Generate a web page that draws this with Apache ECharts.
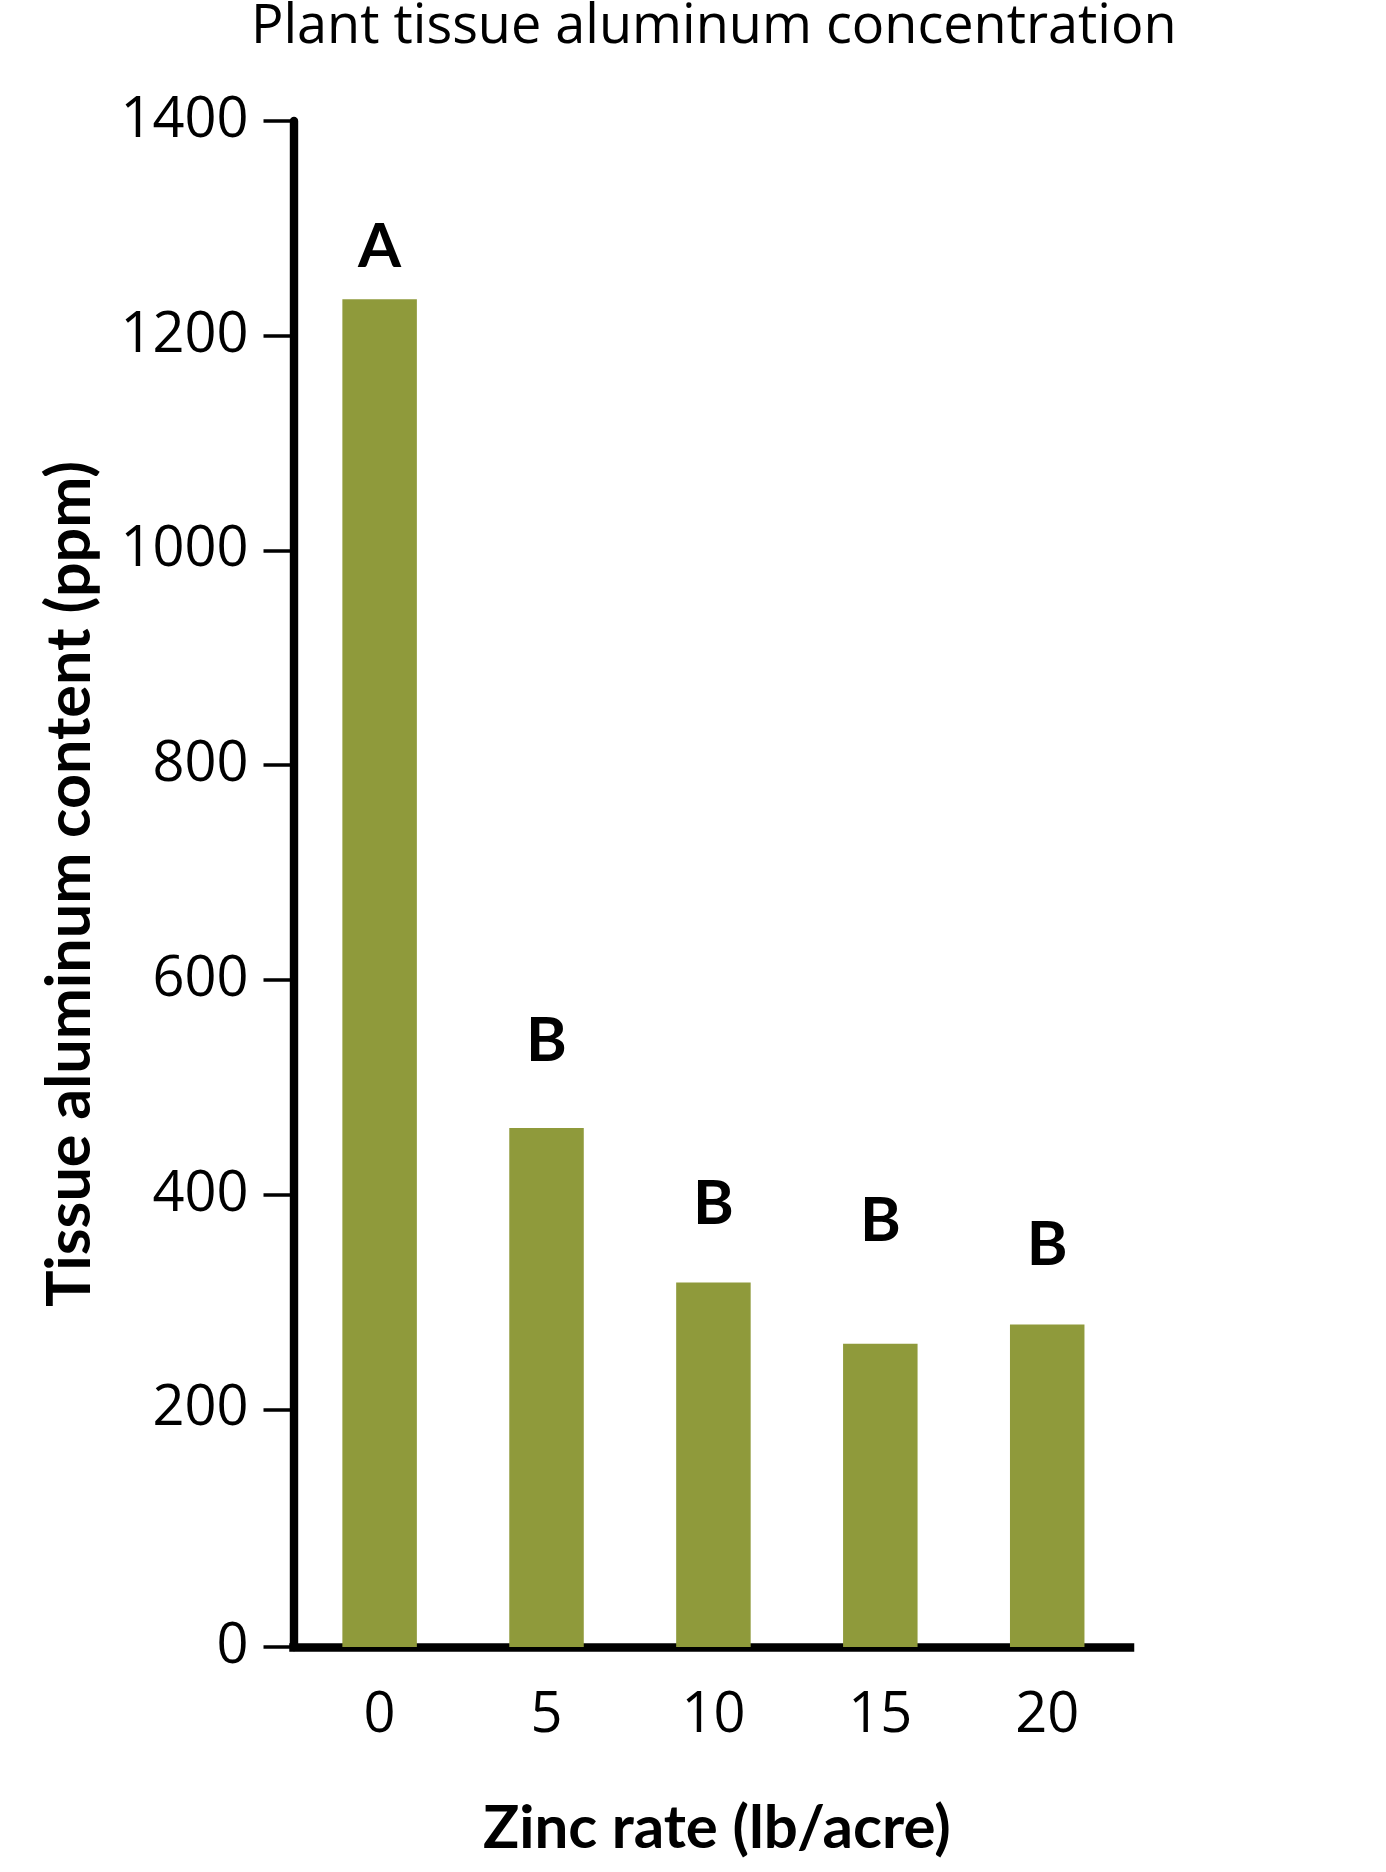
<!DOCTYPE html>
<html>
<head>
<meta charset="utf-8">
<script src="https://cdn.jsdelivr.net/npm/echarts@6/dist/echarts.min.js"></script>
<style>
  html, body { margin: 0; padding: 0; background: #ffffff; }
  #chart { width: 1386px; height: 1872px; }
</style>
</head>
<body>
<div id="chart"></div>
<script>
// ---- data ----
const ZINC_RATES = [0, 5, 10, 15, 20];            // lb/acre
const AL_CONTENT = [1234, 462, 318, 261, 279];     // ppm
const LETTERS    = ['A', 'B', 'B', 'B', 'B'];
const Y_TICKS    = [200, 400, 600, 800, 1000, 1200, 1400];

// ---- layout / style ----
const Y_MIN = -21.424; // the axis line sits a little below the zero of the scale
const Y_MAX = 1400;
const X_MIN = -2.58;
const X_MAX = 22.48;
const LABEL_GAP = [21, 56, 48, 92, 48];
const BAR_COLOR = '#8f9a3b';
const REG_FONT = "'Open Sans', 'Noto Sans', sans-serif";
const BOLD_FONT = "Lato, 'Open Sans', sans-serif";

const chart = echarts.init(document.getElementById('chart'), null, { renderer: 'canvas' });

const mainData = ZINC_RATES.map((x, i) => ({
  value: [x, AL_CONTENT[i]],
  label: { distance: LABEL_GAP[i] }
}));
const fillerData = ZINC_RATES.map(x => [x, Y_MIN]);

chart.setOption({
  animation: false,
  backgroundColor: '#ffffff',
  title: {
    text: 'Plant tissue aluminum concentration',
    left: 251,
    top: 1,
    padding: 0,
    textStyle: { fontFamily: REG_FONT, fontSize: 54, fontWeight: 'normal', color: '#000' }
  },
  grid: { left: 293.5, right: 256, top: 121, bottom: 225 },
  xAxis: {
    type: 'value',
    min: X_MIN,
    max: X_MAX,
    name: 'Zinc rate (lb/acre)',
    nameLocation: 'middle',
    nameGap: 152,
    nameTextStyle: { fontFamily: BOLD_FONT, fontWeight: 'bold', fontSize: 60, color: '#000', padding: [0, 0, 0, 10] },
    axisLine: { show: true, onZero: false, lineStyle: { color: '#000', width: 8.5, cap: 'square' } },
    axisTick: { show: false },
    splitLine: { show: false },
    axisLabel: {
      customValues: ZINC_RATES,
      formatter: v => String(v),
      margin: 41,
      fontFamily: REG_FONT,
      fontSize: 56,
      color: '#000'
    }
  },
  yAxis: {
    type: 'value',
    min: Y_MIN,
    max: Y_MAX,
    name: 'Tissue aluminum content (ppm)',
    nameLocation: 'middle',
    nameGap: 192.5,
    nameRotate: 90,
    nameTextStyle: { fontFamily: BOLD_FONT, fontWeight: 'bold', fontSize: 61, color: '#000' },
    axisLine: { show: true, onZero: false, lineStyle: { color: '#000', width: 8.4 } },
    axisTick: {
      show: true,
      customValues: [Y_MIN].concat(Y_TICKS),
      length: 30,
      lineStyle: { color: '#000', width: 3.5 }
    },
    splitLine: { show: false },
    axisLabel: {
      customValues: [Y_MIN].concat(Y_TICKS),
      formatter: v => (v <= 0 ? '0' : String(v)),
      margin: 45,
      padding: [0, 0, 11, 0],
      fontFamily: REG_FONT,
      fontSize: 56,
      color: '#000'
    }
  },
  series: [
    {
      name: 'base',
      type: 'bar',
      stack: 'al',
      barWidth: 74.5,
      silent: true,
      itemStyle: { color: BAR_COLOR },
      data: fillerData
    },
    {
      name: 'Tissue aluminum',
      type: 'bar',
      stack: 'al',
      barWidth: 74.5,
      itemStyle: { color: BAR_COLOR },
      label: {
        show: true,
        position: 'top',
        formatter: p => LETTERS[p.dataIndex],
        fontFamily: BOLD_FONT,
        fontWeight: 'bold',
        fontSize: 62,
        color: '#000'
      },
      data: mainData
    }
  ]
});
</script>
</body>
</html>
